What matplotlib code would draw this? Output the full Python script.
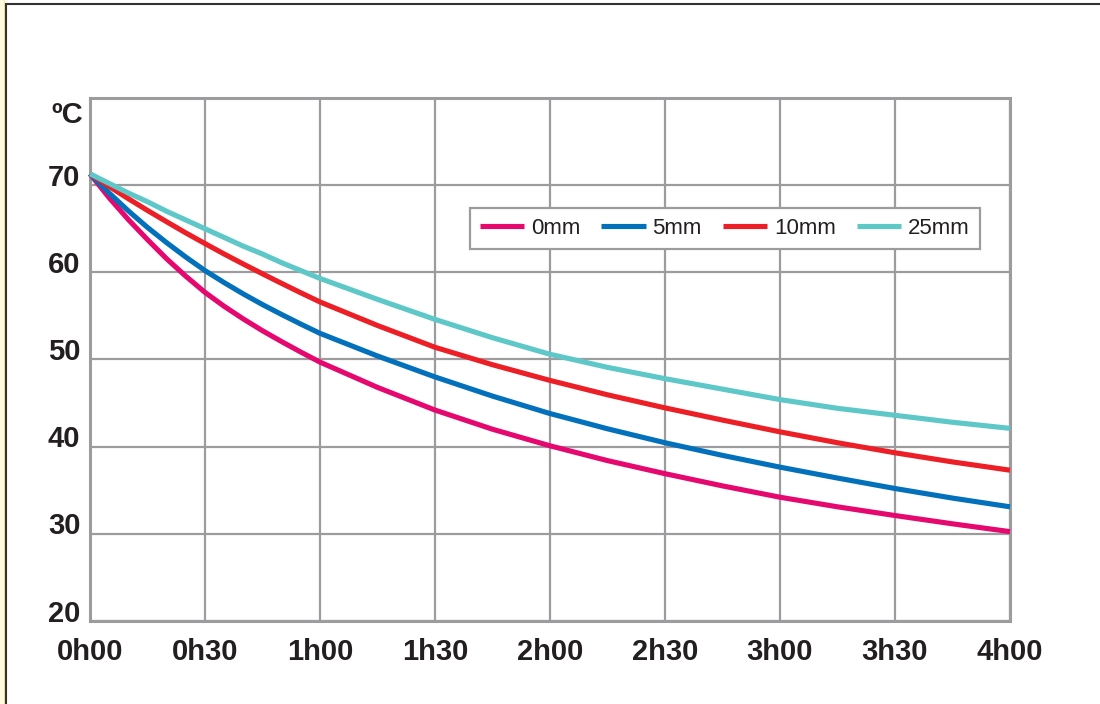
import matplotlib
matplotlib.use("Agg")
import matplotlib.pyplot as plt
from matplotlib.patches import Rectangle
import matplotlib.transforms as mtransforms

# time in hours: every 5 min for the first hour, then every 15 min
hours = [0, 5/60, 10/60, 15/60, 20/60, 25/60, 30/60, 35/60, 40/60, 45/60, 50/60, 55/60, 1,
         1.25, 1.5, 1.75, 2, 2.25, 2.5, 2.75, 3, 3.25, 3.5, 3.75, 4]
temp_0mm = [71.3, 68.55, 66.05, 63.75, 61.55, 59.55, 57.7, 56.1, 54.65, 53.3, 52.05, 50.85, 49.7,
            46.8, 44.2, 42.0, 40.1, 38.4, 36.9, 35.5, 34.2, 33.1, 32.1, 31.15, 30.25]
temp_5mm = [71.3, 69.1, 67.05, 65.15, 63.4, 61.75, 60.2, 58.82, 57.52, 56.3, 55.16, 54.06, 53.0,
            50.4, 48.0, 45.8, 43.8, 42.05, 40.45, 39.0, 37.65, 36.4, 35.2, 34.1, 33.1]
temp_10mm = [71.3, 69.85, 68.45, 67.1, 65.8, 64.52, 63.3, 62.1, 60.95, 59.83, 58.73, 57.65, 56.6,
             53.9, 51.4, 49.4, 47.6, 45.95, 44.45, 43.05, 41.7, 40.45, 39.3, 38.25, 37.3]
temp_25mm = [71.3, 70.2, 69.1, 68.1, 67.0, 66.0, 65.0, 64.0, 63.0, 62.1, 61.1, 60.2, 59.3,
             56.9, 54.6, 52.5, 50.6, 49.1, 47.8, 46.6, 45.4, 44.4, 43.6, 42.8, 42.1]

series_names = ["0mm", "5mm", "10mm", "25mm"]
x_ticks = [0, 0.5, 1, 1.5, 2, 2.5, 3, 3.5, 4]
x_labels = ["0h00", "0h30", "1h00", "1h30", "2h00", "2h30", "3h00", "3h30", "4h00"]
y_ticks = [20, 30, 40, 50, 60, 70]

colors = ["#E5086F", "#0270BA", "#EC1F26", "#5EC7C7"]
grid_col = "#9C9C9F"
txt_col = "#231F20"

plt.rcParams["font.family"] = ["Liberation Sans", "DejaVu Sans"]

fig = plt.figure(figsize=(11, 7.04), dpi=100)
fig.patch.set_facecolor("white")

# cream strip on the left and the dark outer frame
fig.patches.append(Rectangle((0, 0), 5 / 1100, 1, transform=fig.transFigure,
                             facecolor="#FFF9DD", edgecolor="none", zorder=0))
fig.patches.append(Rectangle((3.5 / 1100, -0.01), 1.2 / 1100, 1.02, transform=fig.transFigure,
                             facecolor="#F3E59A", edgecolor="none", zorder=0))
fig.patches.append(Rectangle((5.5 / 1100, -0.05), 1.2, 1 - 3.5 / 704 + 0.05, transform=fig.transFigure,
                             facecolor="none", edgecolor="#333333", linewidth=1.5, zorder=1))

ax = fig.add_axes([90 / 1100, 1 - 621 / 704, 920 / 1100, 523 / 704])

all_temps = [temp_0mm, temp_5mm, temp_10mm, temp_25mm]
for vals, name, c in zip(all_temps, series_names, colors):
    ax.plot(hours, vals, color=c, linewidth=3.7, label=name, zorder=3,
            solid_capstyle="butt", solid_joinstyle="round", clip_on=False)

ax.set_xlim(0, 4)
ax.set_ylim(20, 80)
ax.set_xticks(x_ticks)
ax.set_xticklabels(x_labels)
ax.set_yticks(y_ticks)
ax.grid(True, color=grid_col, linewidth=1.6, zorder=1)
ax.set_axisbelow(True)
for s in ax.spines.values():
    s.set_color(grid_col)
    s.set_linewidth(2.2)
ax.tick_params(length=0)
ax.tick_params(axis="x", pad=12, labelsize=21, labelcolor=txt_col)
ax.tick_params(axis="y", pad=7, labelsize=21, labelcolor=txt_col)
for lab in ax.get_xticklabels():
    lab.set_fontweight("bold")
for lab in ax.get_yticklabels():
    lab.set_fontweight("bold")
    lab.set_verticalalignment("baseline")
    lab.set_transform(lab.get_transform() + mtransforms.ScaledTranslation(0, -0.5 / 100, fig.dpi_scale_trans))

ax.text(-7 / 920, 77.1, "ºC", transform=ax.get_yaxis_transform(), ha="right", va="baseline",
        fontsize=21, fontweight="bold", color=txt_col)

leg = ax.legend(loc="center", bbox_to_anchor=(0.69, 0.751), ncol=4, fontsize=16,
                handlelength=2.0, handletextpad=0.3, columnspacing=0.95,
                fancybox=False, framealpha=1, edgecolor=grid_col, borderpad=0.45)
leg.get_frame().set_linewidth(1.6)
for t in leg.get_texts():
    t.set_color(txt_col)
for h in leg.get_lines():
    h.set_linewidth(3.7)

fig.savefig("out.png", dpi=100)
